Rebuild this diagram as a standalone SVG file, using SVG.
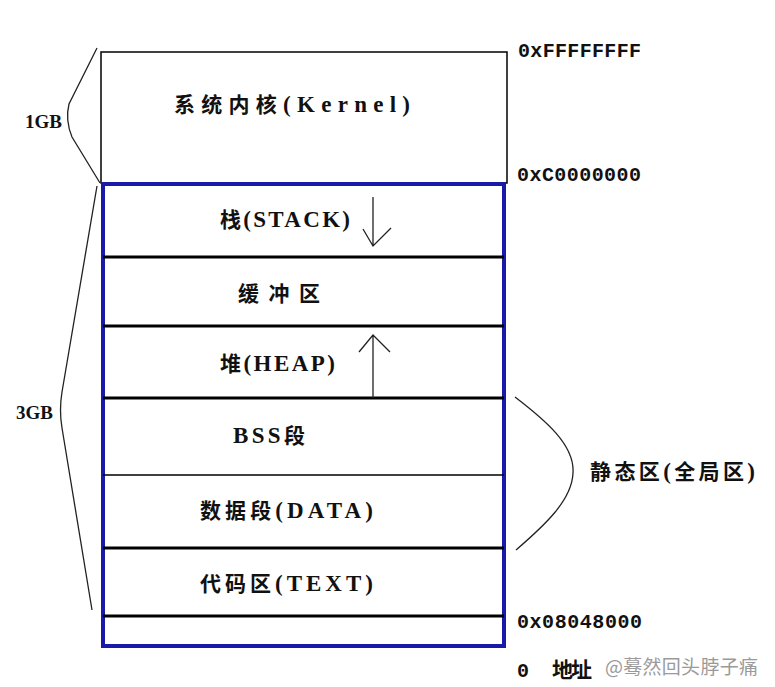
<svg xmlns="http://www.w3.org/2000/svg" width="775" height="687" viewBox="0 0 775 687">
<style>
.cn{font-family:"Liberation Serif","Noto Sans CJK SC",serif;font-size:21px;font-weight:bold;fill:#111}
.a{font-size:23px}
.gb{font-family:"Liberation Serif",serif;font-size:19px;font-weight:bold;fill:#111}
.addr{font-family:"Liberation Mono","Noto Sans CJK SC",monospace;font-size:20px;font-weight:bold;fill:#111}
.thick{stroke:#000;stroke-width:3;fill:none}
.thin{stroke:#000;stroke-width:1.5;fill:none}
.brace{stroke:#222;stroke-width:1.3;fill:none}
.wm{font-family:"Noto Sans CJK SC","Noto Sans",sans-serif;font-size:19px;fill:#9a9a9a}
</style>
<rect width="775" height="687" fill="#fff"/>
<g id="kernel">
<rect x="101" y="52" width="406" height="131" class="thin"/>
<text class="cn" x="174" y="112" textLength="236">系统内核<tspan class="a">(Kernel)</tspan></text>
</g>
<g id="user-space">
<rect x="103" y="184" width="401" height="462" fill="none" stroke="#1a1aa8" stroke-width="4"/>
</g>
<g id="stack">
<text class="cn" x="220" y="227" textLength="130">栈<tspan class="a">(STACK)</tspan></text>
</g>
<g id="buffer">
<line x1="103" y1="257" x2="504" y2="257" class="thick"/>
<text class="cn" x="238" y="301" textLength="82">缓冲区</text>
</g>
<g id="heap">
<line x1="103" y1="326" x2="504" y2="326" class="thick"/>
<text class="cn" x="220" y="371" textLength="115">堆<tspan class="a">(HEAP)</tspan></text>
</g>
<g id="bss">
<line x1="103" y1="398" x2="504" y2="398" class="thick"/>
<text class="cn" x="233" y="443" textLength="72"><tspan class="a">BSS</tspan>段</text>
</g>
<g id="data">
<line x1="103" y1="475" x2="504" y2="475" class="thin"/>
<text class="cn" x="200" y="518" textLength="173">数据段<tspan class="a">(DATA)</tspan></text>
</g>
<g id="text">
<line x1="103" y1="548" x2="504" y2="548" class="thick"/>
<text class="cn" x="200" y="591" textLength="173">代码区<tspan class="a">(TEXT)</tspan></text>
</g>
<g id="reserved">
<line x1="103" y1="616" x2="504" y2="616" class="thick"/>
</g>
<g id="connectors">
<path d="M373,197 L373,246 M363,229 L373,246 L391,228" class="brace" stroke-width="1.5"/>
<path d="M373,398 L373,335 M359,352 L373,335 L390,352" class="brace" stroke-width="1.5"/>
<path d="M97,48 L69,104 Q65,120 72,137 L100,183" class="brace"/>
<path d="M97,186 L62,392 Q59,410 62,428 L92,610" class="brace"/>
<path d="M515,397 C545,420 575,445 573,473 C572,500 545,525 516,550" class="brace"/>
</g>
<g id="labels">
<text class="gb" x="25" y="128">1GB</text>
<text class="gb" x="16" y="419">3GB</text>
<text class="addr" x="518" y="57" textLength="123">0xFFFFFFFF</text>
<text class="addr" x="517" y="181" textLength="124">0xC0000000</text>
<text class="addr" x="517" y="628" textLength="125">0x08048000</text>
<text class="addr" x="517" y="677">0</text>
<text class="cn" x="552" y="677" textLength="40">地址</text>
<text class="cn" x="590" y="479" textLength="165">静态区<tspan class="a">(</tspan>全局区<tspan class="a">)</tspan></text>
<text class="wm" x="605" y="674" textLength="153">@蓦然回头脖子痛</text>
</g>
</svg>
